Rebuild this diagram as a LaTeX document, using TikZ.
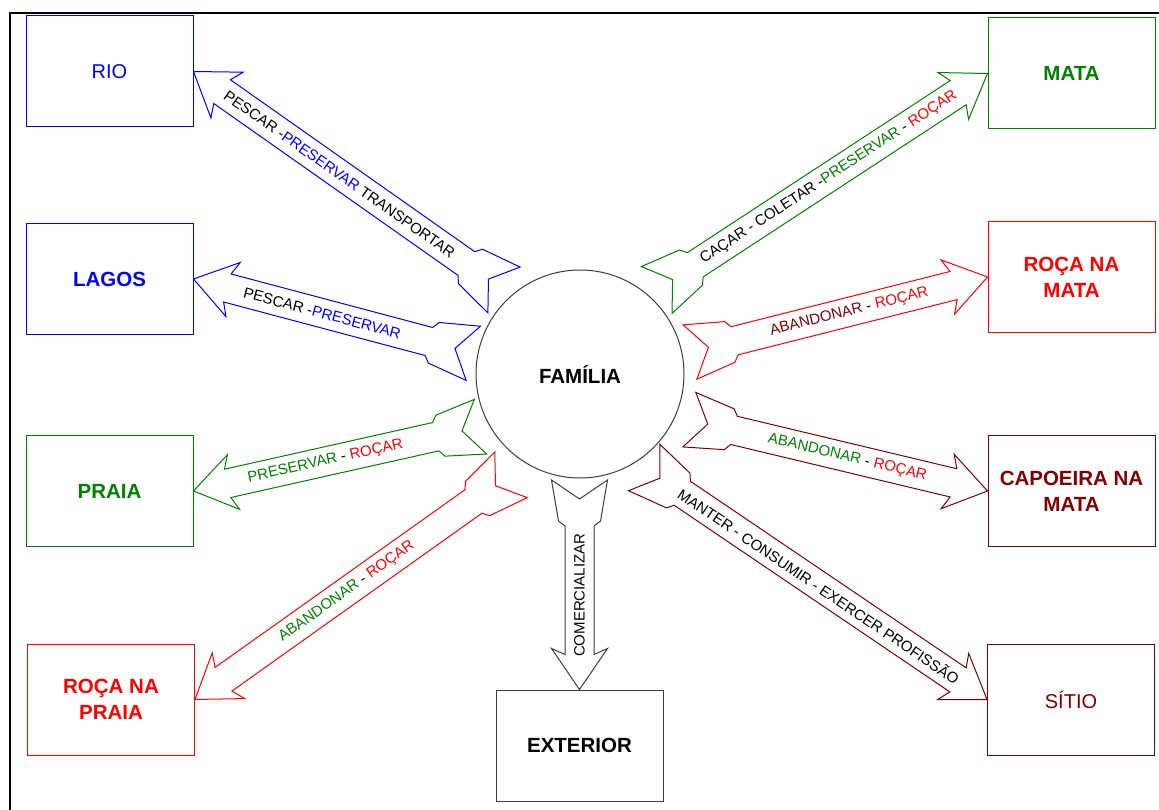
\documentclass[tikz,border=0pt]{standalone}
\usepackage{fontspec}
\setmainfont{Liberation Sans}
\usetikzlibrary{calc}

\definecolor{cblue}{RGB}{0,0,255}
\definecolor{cgreen}{RGB}{0,128,0}
\definecolor{cred}{RGB}{255,0,0}
\definecolor{cmaroon}{RGB}{128,0,0}
\definecolor{cgray}{RGB}{60,60,60}

% Broad outlined arrow with a forked tail: #1 style, #2 tail point, #3 head tip
\newcommand\fatarrow[3]{%
  \draw[fatarrow,#1]
    ($(#2)!28pt!90:(#3)$) --
    ($(#2)!41pt!(#3)!21pt!90:(#3)$) --
    ($(#2)!46pt!(#3)!14.5pt!90:(#3)$) --
    ($(#3)!35pt!(#2)!14.5pt!-90:(#2)$) --
    ($(#3)!41pt!(#2)!28pt!-90:(#2)$) --
    (#3) --
    ($(#3)!41pt!(#2)!28pt!90:(#2)$) --
    ($(#3)!35pt!(#2)!14.5pt!90:(#2)$) --
    ($(#2)!46pt!(#3)!14.5pt!-90:(#3)$) --
    ($(#2)!41pt!(#3)!21pt!-90:(#3)$) --
    ($(#2)!28pt!-90:(#3)$) --
    ($(#2)!19pt!(#3)$) -- cycle;
}

\tikzset{
  fatarrow/.style={line width=1pt, fill=white, line join=miter},
  place/.style={draw, line width=1pt, fill=white, minimum width=167pt,
    minimum height=111pt, align=center, inner sep=0pt,
    font=\bfseries\fontsize{20.5}{26}\selectfont},
  plain/.style={font=\fontsize{20}{24}\selectfont},
  lbl/.style={inner sep=0pt, font=\fontsize{15}{18}\selectfont, text=black},
}

\begin{document}
\begin{tikzpicture}[x=1pt, y=-1pt]
  \useasboundingbox (0,0) rectangle (1159,810);
  \fill[white] (0,0) rectangle (1159,810);

  % outer frame (top and left edges)
  \draw[line width=2.6pt] (10,810) -- (10,13) -- (1159,13);

  % places around the family
  \node[place, draw=cblue, text=cblue, plain] (rio) at (109.5,71.5) {RIO};
  \node[place, draw=cblue, text=cblue] (lagos) at (109.5,279) {LAGOS};
  \node[place, draw=cgreen, text=cgreen] (praia) at (109.5,491) {PRAIA};
  \node[place, draw=cred, text=cred] (rocapraia) at (111,699.5) {ROÇA NA\\PRAIA};
  \node[place, draw=cgray, text=black] (exterior) at (579.5,745.5) {EXTERIOR};
  \node[place, draw=cgreen, text=cgreen] (mata) at (1071.5,73.5) {MATA};
  \node[place, draw=cred, text=cred] (rocamata) at (1071.5,277) {ROÇA NA\\MATA};
  \node[place, draw=cmaroon, text=cmaroon] (capoeira) at (1071.5,491) {CAPOEIRA NA\\MATA};
  \node[place, draw=cmaroon, text=cmaroon, plain] (sitio) at (1071,699.5) {SÍTIO};

  % tails of the arrows, next to the family circle
  \coordinate (tRio) at (504,290);
  \coordinate (tLagos) at (473.3,353.3);
  \coordinate (tPraia) at (480.5,426.7);
  \coordinate (tRocaPraia) at (511,474.8);
  \coordinate (tExt) at (579.5,480);
  \coordinate (tMata) at (656.7,290);
  \coordinate (tRocaMata) at (690,352);
  \coordinate (tCapoeira) at (689.3,419.7);
  \coordinate (tSitio) at (644.2,467.5);

  \fatarrow{draw=cblue}{tRio}{rio.east}
  \fatarrow{draw=cblue}{tLagos}{lagos.east}
  \fatarrow{draw=cgreen}{tPraia}{praia.east}
  \fatarrow{draw=cred}{tRocaPraia}{rocapraia.east}
  \fatarrow{draw=cgray}{tExt}{exterior.north}
  \fatarrow{draw=cgreen}{tMata}{mata.west}
  \fatarrow{draw=cred}{tRocaMata}{rocamata.west}
  \fatarrow{draw=cmaroon}{tCapoeira}{capoeira.west}
  \fatarrow{draw=cmaroon}{tSitio}{sitio.west}

  % the family
  \node[circle, draw=cgray, line width=1pt, fill=white, minimum size=208pt,
    inner sep=0pt, font=\bfseries\fontsize{20.5}{24}\selectfont] (familia)
    at (580,374) {FAMÍLIA};

  % arrow labels
  \path (tRio) -- (rio.east) node[lbl, pos=.53, sloped]
    {PESCAR -\textcolor{cblue}{PRESERVAR} TRANSPORTAR};
  \path (tLagos) -- (lagos.east) node[lbl, pos=.54, sloped]
    {PESCAR -\textcolor{cblue}{PRESERVAR}};
  \path (tPraia) -- (praia.east) node[lbl, pos=.54, sloped]
    {\textcolor{cgreen}{PRESERVAR} - \textcolor{cred}{ROÇAR}};
  \path (tRocaPraia) -- (rocapraia.east) node[lbl, pos=.52, sloped]
    {\textcolor{cgreen}{ABANDONAR} - \textcolor{cred}{ROÇAR}};
  \node[lbl, rotate=90] at ($(tExt)!.55!(exterior.north)$) {COMERCIALIZAR};
  \path (tMata) -- (mata.west) node[lbl, pos=.52, sloped]
    {CAÇAR - COLETAR -\textcolor{cgreen}{PRESERVAR} - \textcolor{cred}{ROÇAR}};
  \path (tRocaMata) -- (rocamata.west) node[lbl, pos=.535, sloped]
    {\textcolor{cmaroon}{ABANDONAR} - \textcolor{cred}{ROÇAR}};
  \path (tCapoeira) -- (capoeira.west) node[lbl, pos=.53, sloped]
    {\textcolor{cgreen}{ABANDONAR} - \textcolor{cred}{ROÇAR}};
  \path (tSitio) -- (sitio.west) node[lbl, pos=.51, sloped]
    {MANTER - CONSUMIR - EXERCER PROFISSÃO};
\end{tikzpicture}
\end{document}
